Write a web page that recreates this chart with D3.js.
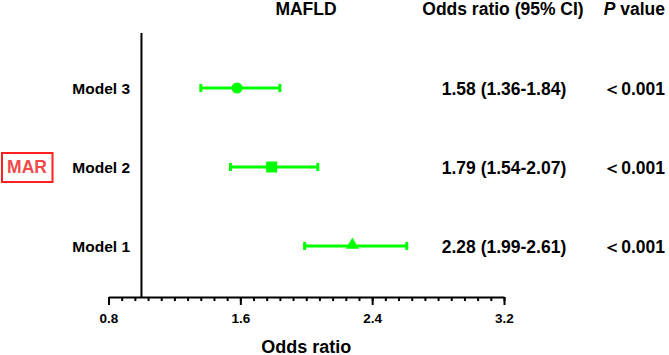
<!DOCTYPE html>
<html>
<head>
    <meta charset="utf-8">
    <title>MAFLD forest plot</title>
    <script type="text/javascript" src="https://cdn.jsdelivr.net/npm/d3@7"></script>
    <style>
      body { margin: 0; background: #fff; }
      text { font-family: "Liberation Sans", Arial, sans-serif; font-weight: bold; }
    </style>
</head>
<body>
<script type="text/javascript">

        var width = 669
        var height = 355

        // data
        var models = ["Model 3", "Model 2", "Model 1"];
        var oddsRatio = [1.58, 1.79, 2.28];
        var ciLow = [1.36, 1.54, 1.99];
        var ciHigh = [1.84, 2.07, 2.61];
        var pValues = ["＜0.001", "＜0.001", "＜0.001"];
        var markerShapes = ["circle", "square", "triangle"];
        var majorTicks = [0.8, 1.6, 2.4, 3.2];
        var refLine = 1.0;

        var green = "#00ff00"

        var svg = d3.select("body").append("svg").attr("width", width).attr("height", height);

        var x = d3.scaleLinear().domain([0.8, 3.2]).range([108.5, 504]);
        var y = d3.scalePoint().domain(models).range([88, 246]);
        var axisY = 297

        // minor ticks every 0.08
        var minorTicks = d3.range(0, 31).map(function(i) { return +(0.8 + i * 0.08).toFixed(2) });

        var minorAxis = svg.append("g")
            .attr("transform", "translate(0," + axisY + ")")
            .call(d3.axisBottom(x).tickValues(minorTicks).tickSize(4).tickSizeOuter(0).tickFormat(""));
        minorAxis.select(".domain").remove();
        minorAxis.selectAll("line").attr("stroke", "#000").attr("stroke-width", 2);

        var majorAxis = svg.append("g")
            .attr("transform", "translate(0," + axisY + ")")
            .call(d3.axisBottom(x).tickValues(majorTicks).tickSize(8).tickSizeOuter(0).tickFormat(d3.format(".1f")));
        majorAxis.select(".domain").attr("stroke", "#000").attr("stroke-width", 2);
        majorAxis.selectAll("line").attr("stroke", "#000").attr("stroke-width", 2);
        majorAxis.selectAll("text")
            .attr("y", 16.5)
            .attr("dy", "0.71em")
            .style("font-size", "13.5px")
            .style("font-weight", "bold")
            .style("font-family", "'Liberation Sans', Arial, sans-serif")
            .attr("fill", "#000");

        svg.append("text")
            .attr("x", (x.range()[0] + x.range()[1]) / 2)
            .attr("y", 352.5)
            .attr("text-anchor", "middle")
            .style("font-size", "18px")
            .text("Odds ratio");

        // reference line at OR = 1
        svg.append("line")
            .attr("x1", x(refLine)).attr("x2", x(refLine))
            .attr("y1", 33).attr("y2", axisY)
            .attr("stroke", "#000")
            .attr("stroke-width", 2);

        // headers
        svg.append("text").attr("x", 306).attr("y", 14.5).attr("text-anchor", "middle")
            .style("font-size", "17.5px").text("MAFLD");
        svg.append("text").attr("x", 503).attr("y", 14.5).attr("text-anchor", "middle")
            .style("font-size", "17.5px").text("Odds ratio (95% CI)");
        var ph = svg.append("text").attr("x", 665).attr("y", 14.5).attr("text-anchor", "end")
            .style("font-size", "17.5px");
        ph.append("tspan").style("font-style", "italic").text("P");
        ph.append("tspan").text(" value");

        var rows = models.map(function(m, i) {
            return { model: m, or: oddsRatio[i], lo: ciLow[i], hi: ciHigh[i], p: pValues[i], shape: markerShapes[i] }
        });

        // model labels
        svg.selectAll(".model")
            .data(rows)
            .enter()
            .append("text")
            .attr("class", "model")
            .attr("x", 130)
            .attr("y", function(d) { return y(d.model) })
            .attr("dy", "0.4em")
            .attr("text-anchor", "end")
            .style("font-size", "15.5px")
            .text(function(d) { return d.model });

        // CI lines + caps
        var ci = svg.selectAll(".ci")
            .data(rows)
            .enter()
            .append("g")
            .attr("class", "ci");

        ci.append("line")
            .attr("x1", function(d) { return x(d.lo) })
            .attr("x2", function(d) { return x(d.hi) })
            .attr("y1", function(d) { return y(d.model) })
            .attr("y2", function(d) { return y(d.model) })
            .attr("stroke", green)
            .attr("stroke-width", 3);

        ["lo", "hi"].forEach(function(k) {
            ci.append("line")
                .attr("x1", function(d) { return x(d[k]) })
                .attr("x2", function(d) { return x(d[k]) })
                .attr("y1", function(d) { return y(d.model) - 4 })
                .attr("y2", function(d) { return y(d.model) + 4 })
                .attr("stroke", green)
                .attr("stroke-width", 3);
        });

        var symbolTypes = { circle: d3.symbolCircle, square: d3.symbolSquare, triangle: d3.symbolTriangle };
        var symbolSizes = { circle: 95, square: 121, triangle: 75 };

        ci.append("path")
            .attr("d", function(d) { return d3.symbol().type(symbolTypes[d.shape]).size(symbolSizes[d.shape])() })
            .attr("transform", function(d) { return "translate(" + x(d.or) + "," + (y(d.model) + (d.shape == "triangle" ? -1 : 0)) + ")" })
            .attr("fill", green);

        // OR (95% CI) column
        var fmt = d3.format(".2f")
        svg.selectAll(".ortext")
            .data(rows)
            .enter()
            .append("text")
            .attr("class", "ortext")
            .attr("x", 504)
            .attr("y", function(d) { return y(d.model) })
            .attr("dy", "0.38em")
            .attr("text-anchor", "middle")
            .style("font-size", "17.5px")
            .text(function(d) { return fmt(d.or) + " (" + fmt(d.lo) + "-" + fmt(d.hi) + ")" });

        // p values
        svg.selectAll(".ptext")
            .data(rows)
            .enter()
            .append("text")
            .attr("class", "ptext")
            .attr("x", 665)
            .attr("y", function(d) { return y(d.model) })
            .attr("dy", "0.38em")
            .attr("text-anchor", "end")
            .style("font-size", "17.5px")
            .text(function(d) { return d.p });

        // MAR box
        svg.append("rect")
            .attr("x", 2).attr("y", 153)
            .attr("width", 50.5).attr("height", 29)
            .attr("fill", "none")
            .attr("stroke", "#ff2020")
            .attr("stroke-width", 2);
        svg.append("text")
            .attr("x", 27).attr("y", y("Model 2"))
            .attr("dy", "0.36em")
            .attr("text-anchor", "middle")
            .attr("fill", "#f24a4a")
            .style("font-size", "17.5px")
            .text("MAR");
</script>
</body>
</html>
